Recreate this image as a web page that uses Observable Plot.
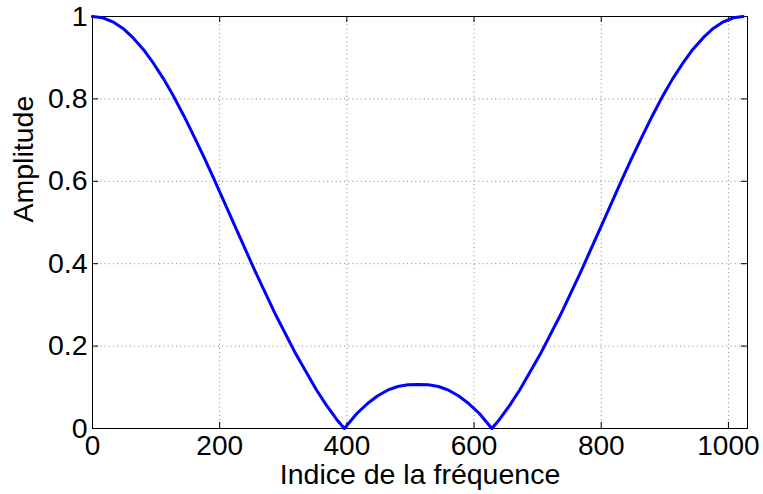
<!DOCTYPE html>
<html>
<head>
<meta charset="utf-8">
<script src="https://cdn.jsdelivr.net/npm/d3@7"></script>
<script src="https://cdn.jsdelivr.net/npm/@observablehq/plot@0.6"></script>
<style>
  html, body { margin: 0; padding: 0; background: #fff; }
  #chart { width: 763px; height: 494px; }
</style>
</head>
<body>
<div id="chart"></div>
<script>
const freqIndex = [0,16,32,48,64,80,96,112,128,144,160,176,192,224,256,288,320,352,368,384,396,416,432,448,464,480,496,512,528,544,560,576,592,608,628,640,656,672,704,736,768,800,832,848,864,880,896,912,928,944,960,976,992,1008,1023];
const amplitude = [1.000,0.997,0.987,0.971,0.948,0.920,0.886,0.848,0.805,0.758,0.708,0.656,0.602,0.491,0.381,0.276,0.180,0.094,0.056,0.022,0.000,0.037,0.060,0.079,0.093,0.102,0.106,0.107,0.106,0.102,0.093,0.079,0.060,0.037,0.000,0.022,0.056,0.094,0.180,0.276,0.381,0.491,0.602,0.656,0.708,0.758,0.805,0.848,0.886,0.920,0.948,0.971,0.987,0.997,1.000];
const xTicks = [0,200,400,600,800,1000];
const yTicks = [0,0.2,0.4,0.6,0.8,1];
const xLabel = "Indice de la fréquence";
const yLabel = "Amplitude";

const data = freqIndex.map((k, i) => ({k, a: amplitude[i]}));

const W = 763, H = 494;
const mL = 92, mR = 16, mT = 16, mB = 66;
const fw = W - mL - mR, fh = H - mT - mB;
const tick = 6;
const gridStyle = {stroke: "#000", strokeOpacity: 0.5, strokeDasharray: "1,3.2", strokeWidth: 1};

const chart = Plot.plot({
  width: W, height: H,
  marginLeft: mL, marginRight: mR, marginTop: mT, marginBottom: mB,
  style: {fontFamily: "'Liberation Sans', Arial, sans-serif", fontSize: "28px", background: "#fff", color: "#000"},
  x: {domain: [0, 1030]},
  y: {domain: [0, 1]},
  marks: [
    Plot.ruleX(xTicks, gridStyle),
    Plot.ruleY(yTicks, gridStyle),
    Plot.ruleX(xTicks, {stroke: "#000", insetTop: fh - tick}),
    Plot.ruleX(xTicks, {stroke: "#000", insetBottom: fh - tick}),
    Plot.ruleY(yTicks, {stroke: "#000", insetRight: fw - tick}),
    Plot.ruleY(yTicks, {stroke: "#000", insetLeft: fw - tick}),
    Plot.frame({stroke: "#000", strokeWidth: 1}),
    Plot.axisX(xTicks, {tickSize: 0, tickPadding: 7, tickFormat: d => String(d), label: null, fontSize: 28}),
    Plot.axisY(yTicks, {tickSize: 0, tickPadding: 5, tickFormat: d => String(d), label: null, fontSize: 28.5}),
    Plot.text([xLabel], {frameAnchor: "bottom", dy: 55, lineAnchor: "bottom", fontSize: 28.5, fill: "#000"}),
    Plot.text([yLabel], {frameAnchor: "left", dx: -60, rotate: -90, lineAnchor: "bottom", fontSize: 28.5, fill: "#000"}),
    Plot.line(data, {x: "k", y: "a", stroke: "#0000ff", strokeWidth: 3, strokeLinejoin: "round", strokeLinecap: "round"})
  ]
});
document.getElementById("chart").appendChild(chart);
</script>
</body>
</html>
